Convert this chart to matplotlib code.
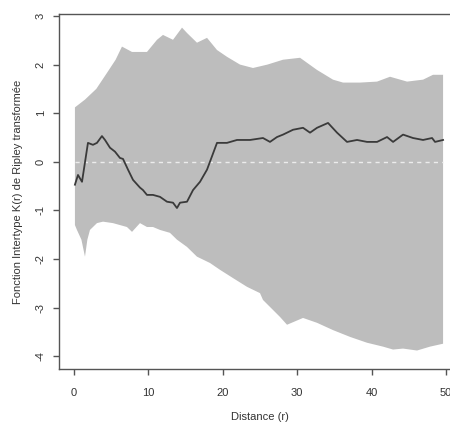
import matplotlib.pyplot as plt

plt.rcParams['font.family'] = ['Liberation Sans', 'DejaVu Sans']

# Upper edge of the simulation envelope
r_hi = [0.13, 1.48, 3.0, 4.44, 5.6, 6.45, 7.8, 9.81, 11.16, 11.96, 13.31,
        14.52, 15.19, 16.53, 17.88, 19.22, 20.56, 22.31, 24.06, 26.0,
        28.09, 30.38, 32.66, 34.81, 36.16, 38.44, 40.73, 42.47, 44.76,
        46.91, 48.25, 49.6]
env_hi = [1.12, 1.28, 1.5, 1.83, 2.1, 2.37, 2.26, 2.26, 2.51, 2.61, 2.51,
          2.76, 2.65, 2.45, 2.55, 2.30, 2.16, 2.0, 1.93, 2.0, 2.10, 2.14,
          1.89, 1.69, 1.63, 1.63, 1.65, 1.75, 1.65, 1.69, 1.79, 1.79]

# Lower edge of the simulation envelope
r_lo = [0.13, 0.4, 1.0, 1.48, 1.8, 2.15, 3.09, 3.9, 5.24, 7.12, 7.8, 8.87,
        9.81, 10.62, 11.56, 12.9, 13.84, 15.19, 16.53, 18.28, 19.62, 21.37,
        23.25, 25.0, 25.4, 27.69, 28.63, 30.78, 32.66, 34.81, 37.1, 39.38,
        41.53, 42.88, 44.22, 46.1, 47.85, 49.6]
env_lo = [-1.30, -1.40, -1.6, -1.95, -1.6, -1.40, -1.26, -1.23, -1.26,
          -1.34, -1.44, -1.26, -1.34, -1.34, -1.40, -1.46, -1.60, -1.75,
          -1.95, -2.08, -2.22, -2.39, -2.57, -2.70, -2.84, -3.19, -3.35,
          -3.21, -3.31, -3.46, -3.60, -3.72, -3.80, -3.86, -3.84, -3.88,
          -3.80, -3.74]

# Observed transformed K function
r_obs = [0.13, 0.54, 1.08, 1.88, 2.55, 3.09, 3.76, 4.17, 4.84, 5.51, 6.18,
         6.59, 7.26, 7.93, 8.87, 9.27, 9.81, 10.62, 11.56, 12.5, 13.31,
         13.84, 14.25, 15.19, 16.0, 16.94, 17.88, 19.22, 20.56, 21.91,
         23.66, 25.4, 26.34, 27.28, 28.09, 29.44, 30.78, 31.72, 32.66,
         34.14, 35.35, 36.69, 38.04, 39.38, 40.73, 42.07, 42.88, 44.22,
         45.56, 46.91, 48.12, 48.52, 49.6]
k_obs = [-0.47, -0.27, -0.41, 0.39, 0.35, 0.39, 0.53, 0.45, 0.29, 0.21,
         0.08, 0.06, -0.16, -0.37, -0.53, -0.58, -0.68, -0.68, -0.72, -0.82,
         -0.84, -0.95, -0.84, -0.82, -0.58, -0.41, -0.16, 0.39, 0.39, 0.45,
         0.45, 0.49, 0.41, 0.51, 0.56, 0.66, 0.70, 0.60, 0.70, 0.80, 0.60,
         0.41, 0.45, 0.41, 0.41, 0.51, 0.41, 0.56, 0.49, 0.45, 0.49, 0.41,
         0.45]

x_ticks = [0, 10, 20, 30, 40, 50]
y_ticks = [-4, -3, -2, -1, 0, 1, 2, 3]

fig = plt.figure(figsize=(4.5, 4.22), dpi=100)
ax = fig.add_axes([0.1313, 0.1256, 0.893, 0.8412])

ax.fill(r_hi + r_lo[::-1], env_hi + env_lo[::-1], color='#bdbdbd', lw=0)
ax.hlines(0, r_obs[0], r_obs[-1], colors='#ececec', linestyles=(0, (3, 3)),
          lw=1)
ax.plot(r_obs, k_obs, color='#3a3a3a', lw=1.3)

ax.set_xlim(-2, 52)
ax.set_ylim(-4.26, 3.04)
ax.set_xticks(x_ticks)
ax.set_yticks(y_ticks)
ax.set_yticklabels([str(v) for v in y_ticks], rotation=90, va='center')

for s in ax.spines.values():
    s.set_color('#555555')
    s.set_linewidth(1)
ax.tick_params(colors='#555555', labelcolor='#333333', labelsize=8,
               length=4.5, width=1)
ax.tick_params(axis='x', pad=9)
ax.tick_params(axis='y', pad=5)

ax.set_xlabel('Distance (r)', fontsize=8, color='#333333', labelpad=10)
ax.set_ylabel('Fonction Intertype K(r) de Ripley transformée', fontsize=8,
              color='#333333', labelpad=9)

fig.savefig('out.png', dpi=100)
